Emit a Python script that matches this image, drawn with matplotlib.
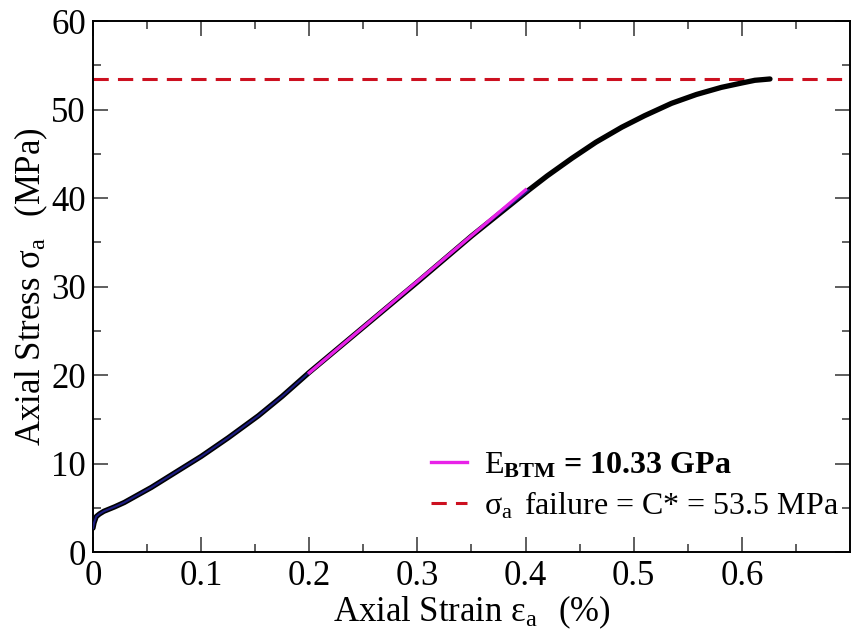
import numpy as np
import matplotlib
matplotlib.use("Agg")
from matplotlib import pyplot as plt

plt.rcParams['font.family'] = ['Liberation Serif', 'DejaVu Serif']
plt.rcParams['mathtext.fontset'] = 'custom'
plt.rcParams['mathtext.rm'] = 'Liberation Serif'
plt.rcParams['mathtext.it'] = 'Liberation Serif:italic'
plt.rcParams['mathtext.bf'] = 'Liberation Serif:bold'

# measured stress-strain curve (strain in %, stress in MPa)
strain = [0.0, 0.001, 0.003, 0.006, 0.010, 0.020, 0.029, 0.054, 0.075, 0.100,
          0.125, 0.153, 0.175, 0.200, 0.250, 0.300, 0.350, 0.403, 0.420,
          0.443, 0.465, 0.489, 0.510, 0.535, 0.558, 0.581, 0.600, 0.612,
          0.626]
stress = [2.7, 3.3, 4.0, 4.3, 4.6, 5.1, 5.6, 7.3, 8.9, 10.8,
          12.9, 15.4, 17.6, 20.3, 25.4, 30.5, 35.7, 40.9, 42.5,
          44.5, 46.3, 48.0, 49.3, 50.7, 51.7, 52.5, 53.0, 53.3,
          53.45]

# tangent modulus fit between 0.2 and 0.4 % strain
E_btm = 10.33          # GPa
fit_intercept = -0.4   # MPa
fit_range = [0.2, 0.4]

C_star = 53.5          # MPa, failure stress

strain = np.array(strain)
stress = np.array(stress)

fig = plt.figure(figsize=(8.53, 6.29), dpi=100)
ax = fig.add_axes([0.109, 0.1224, 0.8875, 0.8442])

ax.plot(strain, stress, color='black', lw=3.8, solid_capstyle='round',
        solid_joinstyle='round', zorder=2)
lower = strain <= 0.41
ax.plot(strain[lower], stress[lower], color='#1c1c80', lw=1.5, zorder=3)

xf = np.array(fit_range)
yf = E_btm * 10 * xf + fit_intercept   # GPa -> MPa per % strain
ax.plot(xf, yf, color='#e822e8', lw=2.4, zorder=4,
        label=r'$\mathrm{E}_{\mathbf{BTM}}$ = %.2f GPa' % E_btm)

ax.axhline(C_star, color='#cc1020', lw=2.2, dashes=(5, 3), zorder=1,
           label='σ$_{\\mathrm{a}}$$\\,$ failure = C* = %.1f MPa' % C_star)

ax.set_xlim(0, 0.7)
ax.set_ylim(0, 60)
ax.set_xticks(np.arange(0, 0.61, 0.1))
ax.set_xticklabels(['0', '0.1', '0.2', '0.3', '0.4', '0.5', '0.6'])
ax.set_xticks(np.arange(0.05, 0.7, 0.1), minor=True)
ax.set_yticks(np.arange(0, 61, 10))
ax.set_yticks(np.arange(5, 60, 10), minor=True)

ax.tick_params(which='both', direction='in', top=True, right=True,
               labelsize=25, width=1.1, color='#333333')
ax.tick_params(which='major', length=11)
ax.tick_params(which='minor', length=6)
ax.tick_params(axis='x', pad=6)
ax.tick_params(axis='y', pad=5)
for s in ax.spines.values():
    s.set_linewidth(1.4)

ax.set_xlabel('Axial Strain ε$_{\\mathrm{a}}\\ \\,$ (%)', fontsize=25, labelpad=0)
ax.set_ylabel('Axial Stress σ$_{\\mathrm{a}}\\ \\,$ (MPa)', fontsize=25, labelpad=1)

leg = ax.legend(loc='lower right', bbox_to_anchor=(0.986, 0.058), frameon=False,
                fontsize=23, handlelength=1.13, handletextpad=0.53,
                labelspacing=0.3, borderaxespad=0, borderpad=0)
leg.get_texts()[0].set_fontweight('bold')

fig.savefig('out.png', dpi=100)
